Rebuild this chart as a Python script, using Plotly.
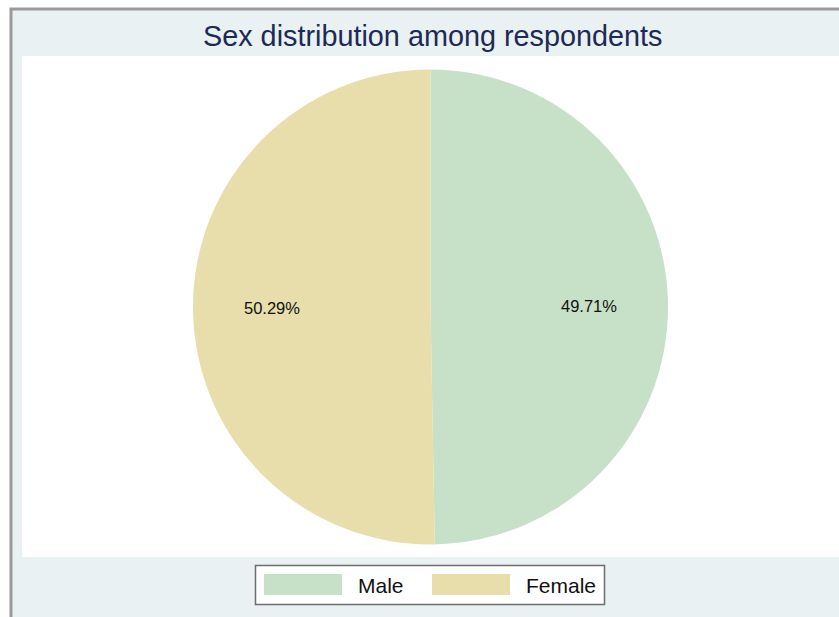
import math
import plotly.graph_objects as go

# Sex distribution (percent of respondents)
categories = ["Male", "Female"]
shares = [49.71, 50.29]
slice_colors = ["#C7E1C8", "#E8DEAC"]

W, H = 839, 617
BG = "#E9F1F3"

# Pie geometry in pixels
cx, cy, R = 430.5, 307.0, 237.5

fig = go.Figure()
fig.add_trace(go.Pie(
    labels=categories,
    values=shares,
    sort=False,
    direction="clockwise",
    rotation=0,
    marker=dict(colors=slice_colors, line=dict(width=0)),
    textinfo="none",
    hoverinfo="label+percent",
    showlegend=False,
    domain=dict(x=[(cx - R) / W, (cx + R) / W],
                y=[1 - (cy + R) / H, 1 - (cy - R) / H]),
))

def px(x):
    return x / W

def py(y):
    return 1 - y / H

shapes = [
    # outer frame lines (top and left)
    dict(type="rect", xref="paper", yref="paper", x0=px(11), x1=px(W + 5),
         y0=py(H + 5), y1=py(9), line=dict(color="#9A9A9A", width=3), fillcolor=BG, layer="below"),
    # white plot region
    dict(type="rect", xref="paper", yref="paper", x0=px(22), x1=px(W + 5),
         y0=py(557), y1=py(56), line=dict(width=0), fillcolor="white", layer="below"),
    # legend box
    dict(type="rect", xref="paper", yref="paper", x0=px(255.5), x1=px(604.5),
         y0=py(604.5), y1=py(565.5), line=dict(color="#6E6E6E", width=1.5), fillcolor="white"),
]

annotations = []

# Percent labels at two thirds of the radius, on each slice's bisector
total = sum(shares)
start = 0.0
for name, v in zip(categories, shares):
    mid = (start + v / 2) / total * 2 * math.pi
    start += v
    r = R * 2 / 3
    lx = cx + r * math.sin(mid)
    ly = cy - r * math.cos(mid)
    annotations.append(dict(
        x=px(lx), y=py(ly), xref="paper", yref="paper",
        text=f"{v:.2f}%", showarrow=False,
        font=dict(family="Liberation Sans, Arial", size=16.5, color="#111111"),
        xanchor="center", yanchor="middle",
    ))

# Legend entries
legend_x = [264, 432]
for i, (name, col) in enumerate(zip(categories, slice_colors)):
    x0 = legend_x[i]
    shapes.append(dict(type="rect", xref="paper", yref="paper",
                       x0=px(x0), x1=px(x0 + 78), y0=py(595), y1=py(574),
                       line=dict(width=0), fillcolor=col))
    annotations.append(dict(
        x=px(x0 + 92), y=py(585), xref="paper", yref="paper",
        text=name, showarrow=False, xanchor="left", yanchor="middle",
        font=dict(family="Liberation Sans, Arial", size=21, color="#111111"),
    ))

# Title
annotations.append(dict(
    x=px(432), y=py(36), xref="paper", yref="paper",
    text="Sex distribution among respondents", showarrow=False,
    xanchor="center", yanchor="middle",
    font=dict(family="Liberation Sans, Arial", size=28.8, color="#1C2A55"),
))

fig.update_layout(
    width=W, height=H,
    margin=dict(l=0, r=0, t=0, b=0),
    paper_bgcolor="white",
    plot_bgcolor="white",
    shapes=shapes,
    annotations=annotations,
)

fig.write_html("out.html")
